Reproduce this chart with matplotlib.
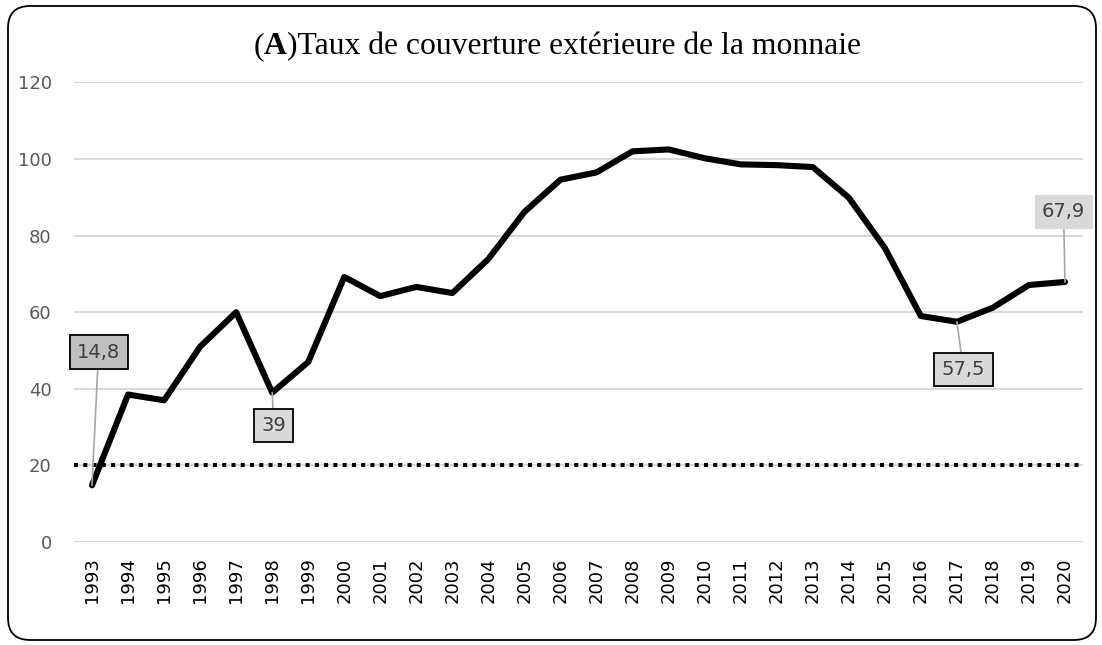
import matplotlib
matplotlib.use("Agg")
import matplotlib.pyplot as plt
from matplotlib.patches import FancyBboxPatch

years = [1993, 1994, 1995, 1996, 1997, 1998, 1999, 2000, 2001, 2002,
         2003, 2004, 2005, 2006, 2007, 2008, 2009, 2010, 2011, 2012,
         2013, 2014, 2015, 2016, 2017, 2018, 2019, 2020]
values = [14.8, 38.5, 37.0, 51.0, 60.0, 39.0, 47.0, 69.2, 64.2, 66.6,
          65.0, 73.9, 86.2, 94.6, 96.5, 102.0, 102.5, 100.2, 98.6, 98.4,
          97.9, 89.9, 76.8, 59.0, 57.5, 61.2, 67.1, 67.9]
threshold = 20
y_ticks = [0, 20, 40, 60, 80, 100, 120]
title_parts = ["(", "A", ")Taux de couverture extérieure de la monnaie"]
label_years = [1993, 1998, 2017, 2020]
label_texts = ["14,8", "39", "57,5", "67,9"]

plt.rcParams['font.family'] = ['DejaVu Sans']

fig = plt.figure(figsize=(11.02, 6.45), dpi=100)
fig.patch.set_facecolor("white")

# rounded frame around the chart
frame = FancyBboxPatch((8/1102, 5/645), 1088/1102, 634/645,
                       boxstyle="round,pad=0,rounding_size=0.02",
                       transform=fig.transFigure, facecolor="none",
                       edgecolor="black", lw=1.3, mutation_aspect=1102/645)
fig.patches.append(frame)

ax = fig.add_axes([74/1102, 1 - 542/645, (1083 - 74)/1102, (542 - 82.4)/645])
ax.set_xlim(1992.5, 2020.5)
ax.set_ylim(0, 120)
ax.set_yticks(y_ticks)
ax.set_xticks(years)
ax.set_xticklabels([str(y) for y in years], rotation=90)
for s in ax.spines.values():
    s.set_visible(False)
ax.grid(axis='y', color='#d9d9d9', lw=1.5)
ax.set_axisbelow(True)
ax.tick_params(axis='y', length=0, pad=16, labelsize=13, labelcolor='#595959')
ax.tick_params(axis='x', length=0, pad=11, labelsize=13, labelcolor='#000000')

ax.axhline(threshold, color='black', lw=2.9, linestyle=(0, (1, 1.3)),
           dash_capstyle='butt', zorder=2)
ax.plot(years, values, color='black', lw=4.4, solid_joinstyle='round',
        solid_capstyle='round', zorder=3)

offsets = [(4.7, 95.8), (1.1, -23.7), (4.7, -34.3), (-1.0, 50.4)]
faces = ['#bfbfbf', '#d9d9d9', '#d9d9d9', '#d9d9d9']
edges = ['black', 'black', 'black', 'none']
for yr, txt, off, fc, ec in zip(label_years, label_texts, offsets, faces, edges):
    v = values[years.index(yr)]
    ax.annotate(txt, xy=(yr, v), xytext=off, textcoords='offset points',
                ha='center', va='center', fontsize=14, color='#404040',
                bbox=dict(boxstyle='square,pad=0.38', fc=fc, ec=ec, lw=1.3),
                arrowprops=dict(arrowstyle='-', color='#a6a6a6', lw=1.2,
                                shrinkA=0, shrinkB=0),
                annotation_clip=False, zorder=5)

# title with bold "A"
fig.canvas.draw()
renderer = fig.canvas.get_renderer()
weights = ['normal', 'bold', 'normal']
texts = []
for part, w in zip(title_parts, weights):
    texts.append(fig.text(0, 0, part, fontsize=22.8, family='Liberation Serif',
                          fontweight=w, va='baseline', ha='left'))
widths = [t.get_window_extent(renderer).width for t in texts]
total = sum(widths)
x0 = 557 - total / 2
y_base = 645 - 54
for t, w in zip(texts, widths):
    t.set_position((x0 / 1102, y_base / 645))
    x0 += w

fig.savefig("out.png", dpi=100, facecolor="white")
